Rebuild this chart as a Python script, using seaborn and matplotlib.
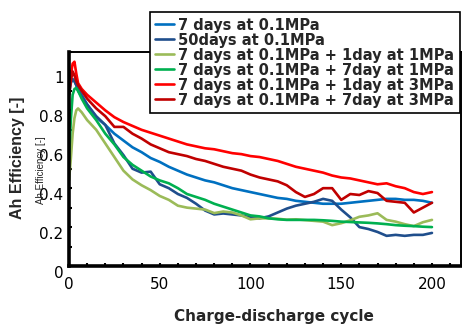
import numpy as np
import pandas as pd
import matplotlib
matplotlib.use("Agg")
import matplotlib.pyplot as plt
import matplotlib.transforms as mtransforms
from matplotlib.ticker import MultipleLocator
import seaborn as sns

# cycle grid shared by all series
cycles = [0, 1, 2, 3, 4, 5, 7, 10, 15, 20, 25, 30, 35, 40, 45, 50, 55, 60, 65, 70,
          75, 80, 85, 90, 95, 100, 105, 110, 115, 120, 125, 130, 135, 140, 145, 150,
          155, 160, 165, 170, 175, 180, 185, 190, 195, 200]

eff_7d = [0.90, 0.95, 0.96, 0.95, 0.93, 0.91, 0.88, 0.83, 0.765, 0.725, 0.68, 0.645,
          0.61, 0.585, 0.555, 0.535, 0.51, 0.49, 0.47, 0.455, 0.44, 0.43, 0.415, 0.40,
          0.39, 0.38, 0.37, 0.36, 0.35, 0.345, 0.335, 0.33, 0.325, 0.32, 0.32, 0.32,
          0.325, 0.33, 0.335, 0.34, 0.345, 0.345, 0.34, 0.34, 0.335, 0.325]

eff_50d = [0.88, 0.94, 0.96, 0.95, 0.93, 0.90, 0.87, 0.83, 0.77, 0.725, 0.63, 0.57,
           0.50, 0.48, 0.485, 0.42, 0.40, 0.37, 0.35, 0.32, 0.285, 0.265, 0.27, 0.265,
           0.26, 0.25, 0.245, 0.255, 0.275, 0.295, 0.31, 0.32, 0.33, 0.345, 0.335, 0.29,
           0.25, 0.20, 0.19, 0.175, 0.155, 0.16, 0.155, 0.16, 0.16, 0.17]

eff_1d_1mpa = [0.44, 0.55, 0.68, 0.76, 0.80, 0.81, 0.79, 0.75, 0.70, 0.63, 0.56, 0.49,
               0.445, 0.415, 0.39, 0.36, 0.34, 0.31, 0.30, 0.295, 0.29, 0.272, 0.28,
               0.275, 0.26, 0.24, 0.245, 0.245, 0.243, 0.238, 0.24, 0.236, 0.232, 0.228,
               0.21, 0.22, 0.235, 0.253, 0.26, 0.271, 0.237, 0.228, 0.215, 0.205, 0.225,
               0.237]

eff_7d_1mpa = [0.55, 0.75, 0.88, 0.91, 0.915, 0.90, 0.86, 0.81, 0.75, 0.68, 0.625,
               0.56, 0.52, 0.49, 0.46, 0.44, 0.425, 0.40, 0.37, 0.355, 0.34, 0.32, 0.305,
               0.29, 0.275, 0.26, 0.255, 0.245, 0.24, 0.237, 0.237, 0.237, 0.237, 0.235,
               0.232, 0.228, 0.226, 0.224, 0.222, 0.219, 0.215, 0.21, 0.207, 0.205,
               0.202, 0.20]

eff_1d_3mpa = [0.89, 0.98, 1.04, 1.05, 0.99, 0.94, 0.91, 0.88, 0.84, 0.80, 0.765, 0.74,
               0.72, 0.70, 0.685, 0.67, 0.655, 0.64, 0.625, 0.615, 0.605, 0.60, 0.59,
               0.58, 0.575, 0.565, 0.56, 0.55, 0.54, 0.525, 0.51, 0.50, 0.49, 0.48,
               0.465, 0.455, 0.45, 0.44, 0.43, 0.42, 0.425, 0.41, 0.40, 0.38, 0.37, 0.38]

eff_7d_3mpa = [0.88, 0.95, 1.00, 0.98, 0.95, 0.93, 0.90, 0.86, 0.81, 0.77, 0.715, 0.715,
               0.68, 0.655, 0.625, 0.605, 0.585, 0.575, 0.565, 0.55, 0.54, 0.525, 0.51,
               0.50, 0.49, 0.47, 0.455, 0.445, 0.435, 0.415, 0.38, 0.355, 0.37, 0.40,
               0.40, 0.34, 0.37, 0.365, 0.385, 0.375, 0.335, 0.33, 0.325, 0.275, 0.30,
               0.325]

labels = ["7 days at 0.1MPa",
          "50days at 0.1MPa",
          "7 days at 0.1MPa + 1day at 1MPa",
          "7 days at 0.1MPa + 7day at 1MPa",
          "7 days at 0.1MPa + 1day at 3MPa",
          "7 days at 0.1MPa + 7day at 3MPa"]
colors = ["#0070C0", "#1F4E8C", "#9BBB59", "#00B050", "#FF0000", "#C00000"]

series = [eff_7d, eff_50d, eff_1d_1mpa, eff_7d_1mpa, eff_1d_3mpa, eff_7d_3mpa]
df = pd.concat([pd.DataFrame({"cycle": cycles, "eff": s, "cond": lab})
                for s, lab in zip(series, labels)], ignore_index=True)

sns.set_style("ticks")
# horizontal texts in the source look stretched -> the wider DejaVu Sans fits them
plt.rcParams["font.family"] = ["DejaVu Sans"]

fig = plt.figure(figsize=(4.62, 3.29), dpi=100)
ax = fig.add_axes([69 / 462, 1 - 266 / 329, 392 / 462, 214 / 329])

sns.lineplot(data=df, x="cycle", y="eff", hue="cond", hue_order=labels,
             palette=colors, linewidth=1.9, ax=ax, legend=False)

ax.set_xlim(0, 216)
ax.set_ylim(0, 1.1)
ax.xaxis.set_major_locator(MultipleLocator(50))
ax.xaxis.set_minor_locator(MultipleLocator(10))
ax.yaxis.set_major_locator(MultipleLocator(0.2))
ax.yaxis.set_minor_locator(MultipleLocator(0.1))
ax.set_yticks([0, 0.2, 0.4, 0.6, 0.8, 1.0])
ax.set_yticklabels(["0", "0.2", "0.4", "0.6", "0.8", "1"])
ax.tick_params(which="both", direction="in", length=2.5, width=1.5, color="black",
               labelsize=11, labelcolor="black")
ax.tick_params(axis="x", pad=8)
ax.tick_params(axis="y", pad=4)

# y tick labels sit a little low in the original
off = mtransforms.ScaledTranslation(0, -6 / 100, fig.dpi_scale_trans)
for lab in ax.get_yticklabels():
    lab.set_transform(lab.get_transform() + off)

for side in ["left", "bottom"]:
    ax.spines[side].set_linewidth(2.6)
for side in ["top", "right"]:
    ax.spines[side].set_linewidth(1.4)
for sp in ax.spines.values():
    sp.set_color("black")

ax.set_xlabel("Charge-discharge cycle", fontsize=11, fontweight="bold")
ax.xaxis.set_label_coords((274 - 69) / 392, -(309 - 266) / 214)
ax.set_ylabel("")
fig.text(18 / 462, 1 - 158 / 329, "Ah Efficiency [-]", rotation=90, fontsize=11.5,
         fontweight="bold", ha="center", va="center", family="Liberation Sans")
# faint duplicate label from the source figure
fig.text(41 / 462, 1 - 170 / 329, "Ah Efficiency [-]", rotation=90, fontsize=7,
         ha="center", va="center", family="Liberation Sans")

handles = [plt.Line2D([], [], color=c, linewidth=1.9) for c in colors]
leg = fig.legend(handles, labels, loc="upper right",
                 bbox_to_anchor=(460 / 462, 1 - 12 / 329),
                 prop={"weight": "bold", "size": 10.5}, frameon=True, fancybox=False,
                 framealpha=1, edgecolor="black", labelspacing=0.0, handlelength=1.3,
                 handletextpad=0.3, borderpad=0.38, borderaxespad=0)
leg.get_frame().set_linewidth(1.2)

fig.savefig("out.png", dpi=100)
